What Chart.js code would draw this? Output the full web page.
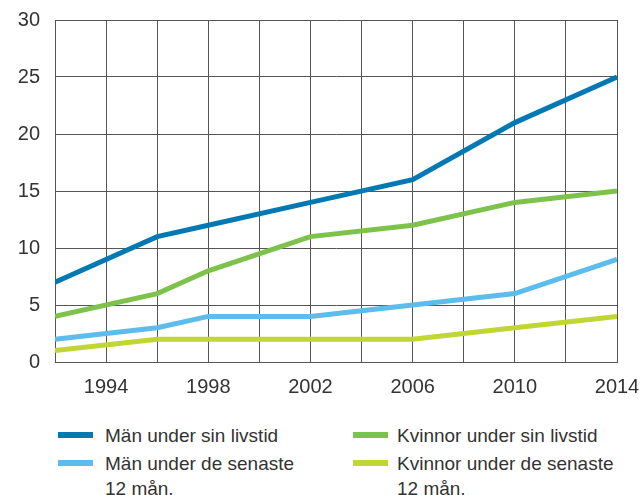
<!DOCTYPE html>
<html>
<head>
<meta charset="utf-8">
<script src="https://cdn.jsdelivr.net/npm/chart.js@4"></script>
<style>
  html, body { margin: 0; padding: 0; background: #fff; }
  #wrap { position: relative; width: 640px; height: 495px; font-family: "Liberation Sans", Arial, sans-serif; color: #333; }
  #chart { position: absolute; left: 0; top: 0; }
  .item { position: absolute; font-size: 19px; line-height: 25px; white-space: nowrap; }
  .swatch { position: absolute; width: 35px; height: 6px; }
</style>
</head>
<body>
<div id="wrap">
  <canvas id="chart" width="640" height="400"></canvas>
  <div id="legend"></div>
</div>
<script>
// Years where the lines break
const years = [1992, 1996, 1998, 2002, 2006, 2010, 2014];

const manLivstid = [7, 11, 12, 14, 16, 21, 25];
const kvinnorLivstid = [4, 6, 8, 11, 12, 14, 15];
const man12 = [2, 3, 4, 4, 5, 6, 9];
const kvinnor12 = [1, 2, 2, 2, 2, 3, 4];

const seriesNames = [
  ["Män under sin livstid"],
  ["Kvinnor under sin livstid"],
  ["Män under de senaste", "12 mån."],
  ["Kvinnor under de senaste", "12 mån."]
];
const seriesColors = ["#0379b4", "#7dc24b", "#5cbceb", "#bfd633"];
const seriesValues = [manLivstid, kvinnorLivstid, man12, kvinnor12];

const xLabels = [1994, 1998, 2002, 2006, 2010, 2014];

const datasets = seriesValues.map((vals, i) => ({
  label: seriesNames[i].join(" "),
  data: vals.map((v, j) => ({ x: years[j], y: v })),
  borderColor: seriesColors[i],
  backgroundColor: seriesColors[i],
  borderWidth: 5,
  pointRadius: 0,
  tension: 0,
  borderCapStyle: "butt",
  borderJoinStyle: "miter"
}));

const tickFont = { family: "Liberation Sans", size: 20 };

new Chart(document.getElementById("chart"), {
  type: "line",
  data: { datasets },
  options: {
    responsive: false,
    animation: false,
    layout: { padding: 0 },
    plugins: { legend: { display: false }, tooltip: { enabled: false } },
    scales: {
      x: {
        type: "linear",
        min: 1992,
        max: 2014,
        grid: { color: "#555", lineWidth: 1, drawTicks: false },
        border: { color: "#555", width: 1 },
        ticks: {
          stepSize: 2,
          autoSkip: false,
          maxRotation: 0,
          padding: 13,
          color: "#333",
          font: tickFont,
          callback: (v) => xLabels.includes(v) ? String(v) : ""
        },
        afterFit: (s) => { s.height = 38; s.paddingLeft = 0; s.paddingRight = 23; }
      },
      y: {
        min: 0,
        max: 30,
        grid: { color: "#555", lineWidth: 1, drawTicks: false },
        border: { color: "#555", width: 1 },
        ticks: { stepSize: 5, padding: 15, color: "#333", font: tickFont },
        afterFit: (s) => { s.width = 55; s.paddingTop = 20; s.paddingBottom = 0; }
      }
    }
  }
});

// Legend below the chart, two columns
const legend = document.getElementById("legend");
const legendPos = [
  { sx: 58, tx: 105, y: 435 },
  { sx: 353, tx: 397, y: 435 },
  { sx: 58, tx: 105, y: 463 },
  { sx: 353, tx: 397, y: 463 }
];
seriesNames.forEach((name, i) => {
  const p = legendPos[i];
  const sw = document.createElement("div");
  sw.className = "swatch";
  sw.style.left = p.sx + "px";
  sw.style.top = (p.y - 3) + "px";
  sw.style.background = seriesColors[i];
  legend.appendChild(sw);
  const t = document.createElement("div");
  t.className = "item";
  t.style.left = p.tx + "px";
  t.style.top = (p.y - 12.5) + "px";
  t.innerHTML = name.join("<br>");
  legend.appendChild(t);
});
</script>
</body>
</html>
